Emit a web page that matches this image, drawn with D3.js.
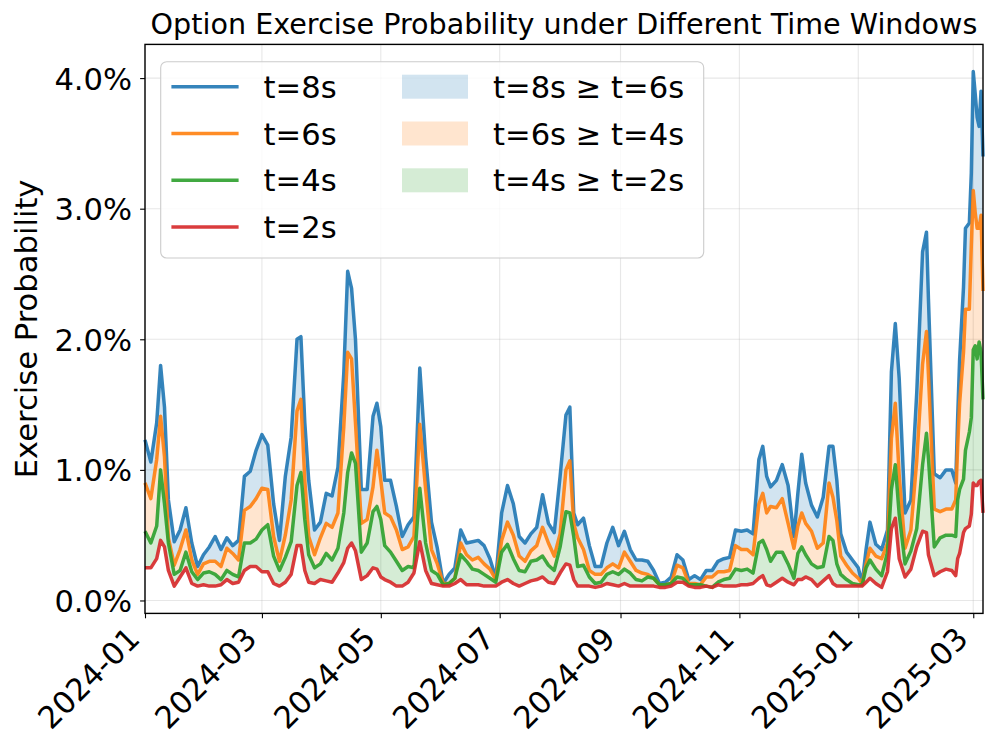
<!DOCTYPE html>
<html>
<head>
<meta charset="utf-8">
<script src="https://cdn.jsdelivr.net/npm/d3@7"></script>
<style>
  body { margin: 0; background: #fff; }
  svg text { font-family: "DejaVu Sans", sans-serif; fill: #000; }
</style>
</head>
<body>
<div id="chart"></div>
<script>
// days since 2024-01-01
const startDate = Date.UTC(2024, 0, 1);
const dayOffsets = [0,3,6,8,10,12,15,18,21,24,
  27,30,33,36,39,42,45,48,51,54,
  57,60,63,66,69,72,75,78,80,82,
  84,87,90,93,96,99,102,104,106,108,
  111,114,117,119,121,123,126,129,132,135,
  138,141,144,147,150,153,156,159,162,165,
  168,171,174,177,180,183,186,189,192,195,
  198,201,204,207,210,213,216,218,220,222,
  225,228,231,234,237,240,243,246,249,252,
  255,258,261,264,267,270,273,276,279,282,
  285,288,291,294,297,300,303,306,309,312,
  315,317,319,321,324,327,330,333,335,337,
  339,342,345,348,351,353,355,357,360,363,
  366,368,370,372,375,378,381,383,385,387,
  390,393,396,399,401,402,405,408,411,414,
  416,417,418,420,421,423,424,425,426,427,
  428,429,430];

// exercise probability in %
const t8 = [1.23,1.06,1.36,1.80,1.48,0.77,0.45,0.54,0.71,0.44,
  0.26,0.35,0.41,0.49,0.39,0.48,0.42,0.46,0.95,0.99,
  1.15,1.27,1.19,0.74,0.46,0.95,1.25,2.00,2.02,1.36,
  0.92,0.54,0.60,0.82,0.80,1.02,1.74,2.52,2.39,2.00,
  0.85,0.85,1.41,1.51,1.33,0.92,0.92,0.72,0.49,0.58,
  0.64,1.78,1.10,0.60,0.40,0.13,0.20,0.25,0.54,0.44,
  0.45,0.46,0.42,0.32,0.17,0.67,0.88,0.74,0.49,0.44,
  0.51,0.56,0.81,0.59,0.52,0.95,1.42,1.48,0.67,0.58,
  0.63,0.42,0.26,0.26,0.44,0.56,0.42,0.53,0.39,0.31,
  0.31,0.30,0.23,0.13,0.14,0.18,0.35,0.31,0.16,0.19,
  0.16,0.23,0.23,0.30,0.32,0.33,0.54,0.53,0.54,0.51,
  1.08,1.18,0.95,0.87,0.92,1.04,0.88,0.49,0.82,1.12,
  0.90,0.73,0.64,0.79,1.18,1.18,0.92,0.51,0.37,0.31,
  0.25,0.13,0.39,0.60,0.43,0.39,0.54,1.75,2.12,1.70,
  0.67,0.77,1.59,2.67,2.82,2.31,0.97,0.94,1.00,1.00,
  0.90,1.40,1.84,2.40,2.85,2.89,3.27,4.05,3.88,3.70,
  3.63,3.90,3.40];
const t6 = [0.90,0.78,1.08,1.41,1.10,0.48,0.27,0.39,0.54,0.31,
  0.20,0.28,0.30,0.30,0.26,0.40,0.36,0.31,0.69,0.72,
  0.78,0.86,0.85,0.49,0.30,0.50,0.77,1.45,1.54,0.92,
  0.49,0.35,0.48,0.59,0.56,0.67,1.33,1.90,1.85,1.36,
  0.59,0.62,0.87,1.15,0.92,0.67,0.64,0.54,0.39,0.41,
  0.49,1.35,0.85,0.39,0.28,0.13,0.13,0.17,0.44,0.35,
  0.31,0.33,0.28,0.24,0.16,0.46,0.60,0.50,0.34,0.30,
  0.38,0.42,0.56,0.44,0.34,0.51,1.00,1.07,0.59,0.48,
  0.39,0.23,0.20,0.20,0.25,0.28,0.25,0.37,0.30,0.23,
  0.21,0.20,0.17,0.12,0.12,0.13,0.27,0.25,0.13,0.13,
  0.12,0.18,0.18,0.22,0.22,0.23,0.42,0.39,0.39,0.35,
  0.74,0.82,0.67,0.72,0.71,0.78,0.59,0.40,0.57,0.67,
  0.59,0.53,0.40,0.44,0.90,0.79,0.61,0.34,0.27,0.21,
  0.17,0.13,0.28,0.40,0.34,0.32,0.44,1.24,1.51,0.96,
  0.40,0.54,1.07,1.81,2.06,1.73,0.70,0.68,0.70,0.70,
  0.77,1.18,1.51,1.90,2.23,2.23,2.72,3.14,2.97,2.85,
  2.85,2.95,2.37];
const t4 = [0.53,0.44,0.57,1.00,0.74,0.44,0.20,0.23,0.37,0.22,
  0.16,0.21,0.22,0.20,0.16,0.23,0.20,0.18,0.44,0.44,
  0.47,0.54,0.58,0.34,0.23,0.33,0.45,0.88,0.98,0.62,
  0.35,0.25,0.28,0.36,0.31,0.40,0.67,0.98,1.13,1.05,
  0.37,0.44,0.68,0.72,0.62,0.42,0.37,0.30,0.23,0.26,
  0.25,0.86,0.44,0.23,0.20,0.12,0.13,0.17,0.35,0.30,
  0.24,0.23,0.20,0.17,0.14,0.37,0.43,0.32,0.23,0.22,
  0.30,0.31,0.34,0.27,0.23,0.41,0.68,0.67,0.49,0.26,
  0.27,0.18,0.13,0.14,0.20,0.22,0.20,0.24,0.21,0.16,
  0.15,0.18,0.17,0.12,0.12,0.13,0.18,0.17,0.12,0.12,
  0.12,0.11,0.10,0.14,0.16,0.17,0.24,0.23,0.24,0.21,
  0.44,0.46,0.39,0.30,0.37,0.37,0.28,0.17,0.36,0.41,
  0.35,0.28,0.25,0.26,0.49,0.46,0.28,0.20,0.16,0.13,
  0.12,0.12,0.25,0.31,0.24,0.19,0.37,0.85,1.04,0.66,
  0.28,0.38,0.55,1.04,1.28,1.09,0.41,0.48,0.50,0.50,
  0.49,0.77,0.85,0.93,1.15,1.29,1.40,1.92,1.95,1.85,
  1.98,1.90,1.54];
const t2 = [0.25,0.25,0.32,0.46,0.41,0.23,0.11,0.18,0.25,0.13,
  0.11,0.12,0.11,0.11,0.12,0.16,0.13,0.14,0.23,0.26,
  0.26,0.22,0.22,0.13,0.11,0.14,0.20,0.42,0.42,0.23,
  0.14,0.13,0.16,0.15,0.14,0.21,0.29,0.40,0.44,0.38,
  0.16,0.19,0.25,0.24,0.18,0.16,0.14,0.11,0.11,0.14,
  0.21,0.45,0.23,0.13,0.12,0.11,0.11,0.13,0.16,0.12,
  0.12,0.12,0.11,0.11,0.11,0.14,0.16,0.13,0.11,0.13,
  0.15,0.16,0.18,0.14,0.13,0.21,0.28,0.27,0.16,0.11,
  0.11,0.11,0.10,0.11,0.13,0.12,0.11,0.13,0.11,0.11,
  0.11,0.11,0.11,0.10,0.10,0.11,0.14,0.14,0.11,0.10,
  0.10,0.11,0.10,0.12,0.11,0.11,0.11,0.12,0.12,0.13,
  0.17,0.19,0.12,0.11,0.14,0.17,0.14,0.12,0.16,0.16,
  0.18,0.16,0.11,0.15,0.19,0.13,0.11,0.11,0.11,0.11,
  0.11,0.11,0.14,0.17,0.13,0.10,0.22,0.55,0.63,0.32,
  0.18,0.24,0.41,0.53,0.52,0.35,0.19,0.22,0.24,0.23,
  0.19,0.32,0.36,0.52,0.55,0.57,0.66,0.90,0.88,0.88,
  0.91,0.92,0.67];

const xTickLabels = ["2024-01", "2024-03", "2024-05", "2024-07", "2024-09", "2024-11", "2025-01", "2025-03"];
const yTicks = [0, 1, 2, 3, 4];
const lineNames = ["t=8s", "t=6s", "t=4s", "t=2s"];
const bandNames = ["t=8s \u2265 t=6s", "t=6s \u2265 t=4s", "t=4s \u2265 t=2s"];
const colors = ["#1f77b4", "#ff7f0e", "#2ca02c", "#d62728"];

const width = 996, height = 755;
const plot = { left: 145, right: 983, top: 44.4, bottom: 613.4 };

const svg = d3.select("#chart").append("svg")
    .attr("width", width)
    .attr("height", height);

svg.append("rect").attr("width", width).attr("height", height).attr("fill", "#fff");

const n = Math.min(dayOffsets.length, t8.length, t6.length, t4.length, t2.length);
const rows = d3.range(n).map(i => ({
    date: new Date(startDate + dayOffsets[i] * 864e5),
    v: [t8[i], t6[i], t4[i], t2[i]]
}));

const x = d3.scaleUtc()
    .domain(d3.extent(rows, d => d.date))
    .range([plot.left, plot.right]);

const y = d3.scaleLinear()
    .domain([-0.099, 4.258])
    .range([plot.bottom, plot.top]);

const xTicks = xTickLabels.map(s => d3.utcParse("%Y-%m")(s));

// grid
const grid = svg.append("g").attr("stroke", "#b0b0b0").attr("stroke-opacity", 0.3).attr("stroke-width", 1.1);
grid.selectAll("line.gx").data(xTicks).enter().append("line")
    .attr("x1", d => x(d)).attr("x2", d => x(d))
    .attr("y1", plot.top).attr("y2", plot.bottom);
grid.selectAll("line.gy").data(yTicks).enter().append("line")
    .attr("x1", plot.left).attr("x2", plot.right)
    .attr("y1", d => y(d)).attr("y2", d => y(d));

// bands between windows
const bands = svg.append("g");
for (let k = 0; k < 3; k++) {
    const area = d3.area()
        .x(d => x(d.date))
        .y0(d => y(d.v[k + 1]))
        .y1(d => y(d.v[k]));
    bands.append("path")
        .datum(rows)
        .attr("d", area)
        .attr("fill", colors[k])
        .attr("fill-opacity", 0.2);
}

// lines
const lines = svg.append("g");
for (let k = 0; k < 4; k++) {
    const line = d3.line()
        .x(d => x(d.date))
        .y(d => y(d.v[k]));
    lines.append("path")
        .datum(rows)
        .attr("d", line)
        .attr("fill", "none")
        .attr("stroke", colors[k])
        .attr("stroke-opacity", 0.9)
        .attr("stroke-width", 3.5)
        .attr("stroke-linejoin", "round");
}

// axes
const yAxis = svg.append("g")
    .attr("transform", `translate(${plot.left},0)`)
    .call(d3.axisLeft(y).tickValues(yTicks).tickFormat(d => d.toFixed(1) + "%").tickSize(4.9).tickSizeOuter(0).tickPadding(8));
yAxis.select(".domain").remove();
yAxis.selectAll(".tick line").attr("stroke", "#000").attr("stroke-width", 1.1);
yAxis.selectAll(".tick text")
    .attr("font-family", "DejaVu Sans")
    .attr("font-size", 30.6)
    .attr("dy", "0.36em");

const xAxis = svg.append("g")
    .attr("transform", `translate(0,${plot.bottom})`)
    .call(d3.axisBottom(x).tickValues(xTicks).tickFormat(d3.utcFormat("%Y-%m")).tickSize(4.9).tickSizeOuter(0));
xAxis.select(".domain").remove();
xAxis.selectAll(".tick line").attr("stroke", "#000").attr("stroke-width", 1.1);
xAxis.selectAll(".tick text")
    .attr("font-family", "DejaVu Sans")
    .attr("font-size", 30.6)
    .attr("text-anchor", "end")
    .attr("x", 0).attr("y", 0).attr("dy", 0)
    .attr("transform", "translate(-4,27) rotate(-45)");

// frame
svg.append("rect")
    .attr("x", plot.left).attr("y", plot.top)
    .attr("width", plot.right - plot.left).attr("height", plot.bottom - plot.top)
    .attr("fill", "none").attr("stroke", "#000").attr("stroke-width", 1.4);

// title and label
svg.append("text")
    .attr("x", (plot.left + plot.right) / 2).attr("y", 34)
    .attr("text-anchor", "middle")
    .attr("font-size", 28.6)
    .text("Option Exercise Probability under Different Time Windows");

svg.append("text")
    .attr("transform", `translate(37,${(plot.top + plot.bottom) / 2}) rotate(-90)`)
    .attr("text-anchor", "middle")
    .attr("font-size", 30.6)
    .text("Exercise Probability");

// legend
const legend = svg.append("g");
legend.append("rect")
    .attr("x", 160.7).attr("y", 61.7).attr("width", 543).attr("height", 196.3)
    .attr("rx", 6)
    .attr("fill", "#fff").attr("fill-opacity", 0.8)
    .attr("stroke", "#cccccc").attr("stroke-width", 1.1);

const rowY = [86.7, 133.5, 180.3, 227.1];
lineNames.forEach((name, i) => {
    legend.append("line")
        .attr("x1", 171.4).attr("x2", 238.6)
        .attr("y1", rowY[i]).attr("y2", rowY[i])
        .attr("stroke", colors[i]).attr("stroke-opacity", 0.9).attr("stroke-width", 3.5);
    legend.append("text")
        .attr("x", 263.6).attr("y", rowY[i] + 11)
        .attr("font-size", 30.6)
        .text(name);
});
bandNames.forEach((name, i) => {
    legend.append("rect")
        .attr("x", 402).attr("y", rowY[i] - 12).attr("width", 66).attr("height", 24)
        .attr("fill", colors[i]).attr("fill-opacity", 0.2);
    legend.append("text")
        .attr("x", 493).attr("y", rowY[i] + 11)
        .attr("font-size", 30.6)
        .text(name);
});
</script>
</body>
</html>
